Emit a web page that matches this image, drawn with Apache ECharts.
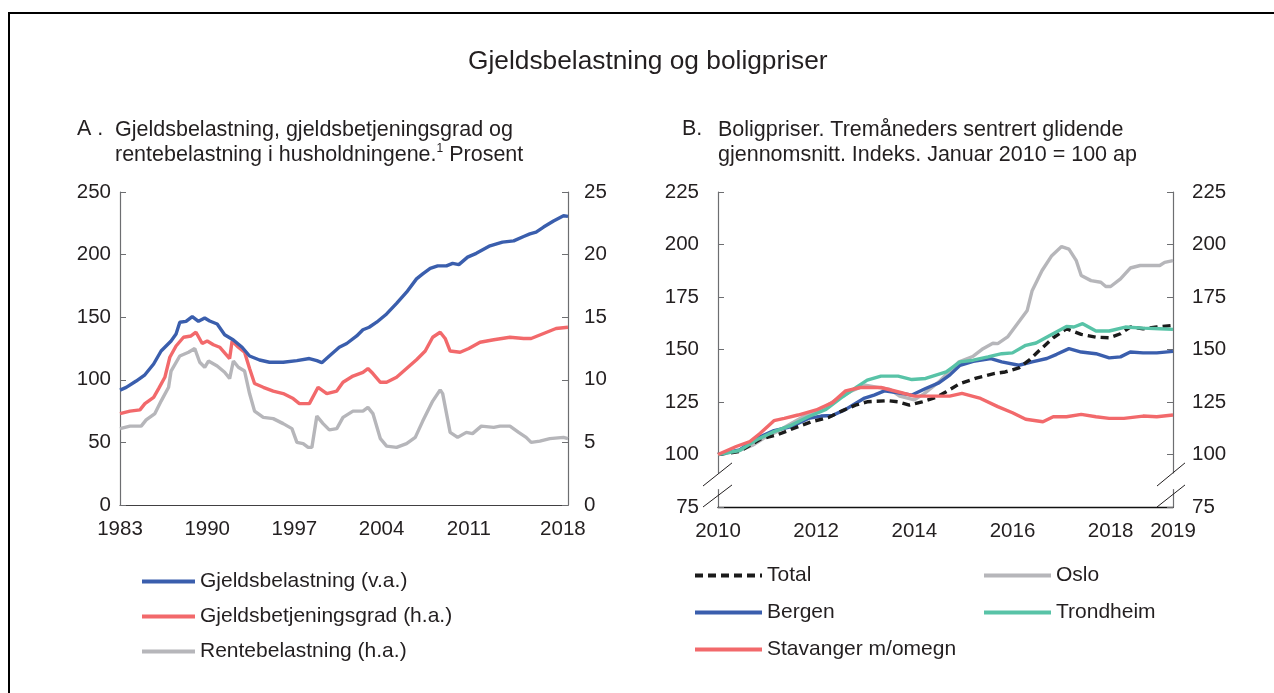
<!DOCTYPE html>
<html>
<head>
<meta charset="utf-8">
<script src="https://cdn.jsdelivr.net/npm/echarts@6/dist/echarts.min.js"></script>
<style>
  html, body { margin: 0; padding: 0; background: #fff; }
  #chart { width: 1274px; height: 693px; }
</style>
</head>
<body>
<div id="chart"></div>
<script>
// Panel A: Gjeldsbelastning (v.a.), Gjeldsbetjeningsgrad (h.a.), Rentebelastning (h.a.)
var gjeldYears = [1983.0, 1983.5, 1984.3, 1985.0, 1985.7, 1986.3, 1987.1, 1987.5, 1987.8, 1988.3, 1988.8, 1989.3, 1989.8, 1990.2, 1990.8, 1991.4, 1992.1, 1992.8, 1993.4, 1994.2, 1995.0, 1996.1, 1997.2, 1998.2, 1998.8, 1999.2, 1999.8, 2000.6, 2001.2, 2002.0, 2002.5, 2003.0, 2003.6, 2004.4, 2005.2, 2006.0, 2006.8, 2007.3, 2007.9, 2008.5, 2009.2, 2009.7, 2010.2, 2010.9, 2011.6, 2012.7, 2013.7, 2014.6, 2015.4, 2015.9, 2016.4, 2017.0, 2017.8, 2018.6, 2018.96];
var gjeldVals = [91.8, 93.9, 99, 104, 112.6, 123, 131, 136.6, 146, 146.7, 150.5, 146.7, 149.4, 147, 144.6, 136, 131.8, 126, 119, 115.8, 114, 114, 115.3, 117, 115.3, 113.7, 119, 126, 129, 135, 140, 142, 146, 152.6, 161, 170, 180.6, 184.6, 189, 191, 191, 193, 192, 198, 201, 207, 210, 211, 214.5, 216.6, 218, 222, 226.8, 231, 230.5];

var betjYears = [1983.0, 1983.8, 1984.6, 1985.0, 1985.7, 1986.1, 1986.6, 1987.0, 1987.5, 1988.1, 1988.7, 1989.1, 1989.6, 1990.0, 1990.5, 1991.0, 1991.8, 1992.0, 1992.5, 1993.0, 1993.4, 1993.8, 1994.5, 1995.3, 1996.1, 1996.9, 1997.4, 1998.2, 1998.9, 1999.6, 2000.4, 2000.9, 2001.7, 2002.5, 2002.9, 2003.3, 2003.9, 2004.4, 2005.2, 2006.0, 2006.8, 2007.5, 2008.1, 2008.7, 2009.1, 2009.5, 2010.3, 2011.0, 2011.9, 2013.0, 2014.3, 2015.4, 2016.0, 2017.0, 2018.0, 2018.96];
var betjVals = [7.3, 7.5, 7.6, 8.1, 8.6, 9.3, 10.2, 11.8, 12.7, 13.4, 13.5, 13.8, 12.9, 13.1, 12.8, 12.6, 11.7, 13.1, 12.6, 12.2, 10.9, 9.7, 9.4, 9.1, 8.9, 8.5, 8.1, 8.1, 9.4, 8.9, 9.1, 9.8, 10.3, 10.6, 10.9, 10.5, 9.8, 9.8, 10.2, 10.9, 11.6, 12.3, 13.4, 13.8, 13.3, 12.3, 12.2, 12.5, 13.0, 13.2, 13.4, 13.3, 13.3, 13.7, 14.1, 14.2];

var renteYears = [1983.0, 1983.8, 1984.7, 1985.1, 1985.8, 1986.3, 1986.9, 1987.1, 1987.8, 1988.5, 1989.0, 1989.4, 1989.8, 1990.1, 1990.8, 1991.4, 1991.8, 1992.1, 1992.5, 1993.0, 1993.4, 1993.8, 1994.5, 1995.3, 1996.1, 1996.8, 1997.2, 1997.7, 1998.1, 1998.4, 1998.8, 1999.3, 1999.8, 2000.4, 2000.9, 2001.7, 2002.5, 2002.9, 2003.3, 2003.9, 2004.4, 2005.2, 2006.0, 2006.7, 2007.3, 2008.1, 2008.7, 2008.9, 2009.5, 2010.1, 2010.8, 2011.3, 2012.0, 2013.0, 2013.5, 2014.3, 2015.0, 2015.6, 2016.0, 2016.7, 2017.5, 2018.6, 2018.96];
var renteVals = [6.1, 6.3, 6.3, 6.8, 7.3, 8.3, 9.4, 10.7, 11.9, 12.2, 12.5, 11.4, 11.0, 11.5, 11.1, 10.6, 10.1, 11.5, 11.0, 10.7, 8.9, 7.5, 7.0, 6.9, 6.5, 6.1, 5.0, 4.9, 4.6, 4.6, 7.1, 6.5, 6.0, 6.1, 7.0, 7.5, 7.5, 7.8, 7.3, 5.3, 4.7, 4.6, 4.9, 5.4, 6.7, 8.3, 9.2, 8.9, 5.8, 5.4, 5.8, 5.7, 6.3, 6.2, 6.3, 6.3, 5.8, 5.4, 5.0, 5.1, 5.3, 5.4, 5.3];

var aLeftTicks = { min: 0, max: 250, step: 50 };
var aRightTicks = { min: 0, max: 25, step: 5 };
var aYearLabels = [1983, 1990, 1997, 2004, 2011, 2018.55];

// Panel B: Boligpriser, indeks januar 2010 = 100
var totalYears = [2010.0, 2010.44, 2010.86, 2011.2, 2011.55, 2011.9, 2012.26, 2012.54, 2012.8, 2013.04, 2013.46, 2013.67, 2013.9, 2014.16, 2014.44, 2014.65, 2014.93, 2015.28, 2015.64, 2015.85, 2016.13, 2016.34, 2016.55, 2016.83, 2017.1, 2017.4, 2017.7, 2017.97, 2018.2, 2018.4, 2018.66, 2018.94, 2019.27];
var totalVals = [100, 101.4, 107.3, 109.3, 112.5, 115.6, 117.7, 120.9, 123.5, 125.1, 125.6, 125.1, 123.5, 125.1, 127.2, 129.9, 133.8, 136.5, 138.6, 139.3, 141.2, 144.9, 149.6, 155.6, 159.9, 157.2, 155.9, 155.6, 157.5, 160.7, 159.9, 160.7, 161.5];

var osloYears = [2010.0, 2010.44, 2010.72, 2010.93, 2011.2, 2011.5, 2011.8, 2012.1, 2012.4, 2012.7, 2013.0, 2013.2, 2013.5, 2013.7, 2014.0, 2014.2, 2014.5, 2014.7, 2014.9, 2015.2, 2015.4, 2015.6, 2015.7, 2015.9, 2016.1, 2016.3, 2016.4, 2016.6, 2016.8, 2017.0, 2017.15, 2017.3, 2017.4, 2017.6, 2017.8, 2017.9, 2018.0, 2018.2, 2018.4, 2018.6, 2019.0, 2019.1, 2019.27];
var osloVals = [100, 101.9, 104.6, 107.7, 110.9, 114.9, 118.8, 121.5, 126, 130, 133, 132.2, 131, 127.8, 126, 129, 134.6, 139.3, 144, 146.8, 150.4, 153, 152.8, 156, 162.3, 168.6, 178, 187.5, 194.7, 199, 197.8, 192.3, 185.2, 182.8, 182, 180, 180, 183.6, 188.8, 190, 190, 191.5, 192.3];

var bergenYears = [2010.0, 2010.44, 2010.79, 2011.14, 2011.5, 2011.84, 2012.1, 2012.33, 2012.6, 2012.97, 2013.18, 2013.39, 2013.67, 2013.95, 2014.23, 2014.5, 2014.72, 2014.93, 2015.2, 2015.56, 2015.78, 2016.13, 2016.4, 2016.7, 2016.9, 2017.15, 2017.4, 2017.7, 2017.97, 2018.2, 2018.4, 2018.66, 2018.94, 2019.27];
var bergenVals = [100, 102.2, 107.7, 111.4, 113.3, 117.2, 118.3, 118.6, 121.5, 126.7, 128.3, 130.3, 129.4, 128.3, 131.4, 134.1, 137.8, 142.5, 144.4, 145.7, 144.1, 142.5, 144.1, 145.7, 147.7, 150.4, 148.8, 148, 146, 146.5, 148.8, 148.4, 148.4, 149.1];

var trondYears = [2010.0, 2010.44, 2010.79, 2011.14, 2011.5, 2011.84, 2012.2, 2012.54, 2012.83, 2013.04, 2013.32, 2013.67, 2013.95, 2014.23, 2014.44, 2014.65, 2014.93, 2015.2, 2015.5, 2015.78, 2016.0, 2016.27, 2016.48, 2016.76, 2017.1, 2017.25, 2017.43, 2017.7, 2017.97, 2018.3, 2018.66, 2019.0, 2019.27];
var trondVals = [100, 101.9, 107, 110.9, 114, 118, 121.5, 127.5, 132.2, 135.4, 137.3, 137.3, 135.7, 136.2, 137.8, 139.3, 144.1, 144.9, 146.5, 148, 148.4, 152, 153.1, 156.7, 161, 160.7, 162.3, 158.8, 158.8, 160.7, 160.2, 159.9, 159.6];

var stavYears = [2010.0, 2010.37, 2010.65, 2010.86, 2011.14, 2011.35, 2011.63, 2012.0, 2012.33, 2012.6, 2012.9, 2013.32, 2013.74, 2014.0, 2014.44, 2014.72, 2014.97, 2015.35, 2015.7, 2016.0, 2016.27, 2016.62, 2016.83, 2017.1, 2017.4, 2017.7, 2017.97, 2018.27, 2018.66, 2018.94, 2019.27];
var stavVals = [100, 103.8, 106.2, 110.1, 116.1, 117.2, 118.8, 121.2, 124.7, 130.3, 131.9, 131.9, 129.4, 127.8, 127.8, 127.8, 129.1, 126.7, 122.8, 119.9, 116.8, 115.6, 118, 118, 119.1, 118, 117.2, 117.2, 118.3, 118, 118.8];

var bTicks = { min: 75, max: 225, step: 25 };
var bYearLabels = [2010, 2012, 2014, 2016, 2018, 2019.27];

var font = '"Liberation Sans", Arial, sans-serif';
var ink = '#231f20';
var cBlue = '#3a5ead';
var cRed = '#f2696b';
var cGray = '#b6b6ba';
var cTeal = '#58c3a7';
var cBlack = '#1b1b1b';

function zip(xs, ys) {
  return xs.map(function(x, i) { return [x, ys[i]]; });
}

function yAxis(grid, ticks, pos, margin) {
  return {
    type: 'value', gridIndex: grid, position: pos,
    min: ticks.min, max: ticks.max, interval: ticks.step,
    axisLine: { show: true, lineStyle: { color: '#6d6e71', width: 1.2 } },
    axisTick: { show: true, inside: true, length: 6, lineStyle: { color: '#6d6e71' } },
    axisLabel: { color: ink, fontSize: 20.5, fontFamily: font, margin: margin },
    splitLine: { show: false }
  };
}

function lineSeries(name, data, color, xi, yi, dashed) {
  return {
    name: name, type: 'line', xAxisIndex: xi, yAxisIndex: yi,
    data: data, symbol: 'none', showSymbol: false,
    lineStyle: { color: color, width: 3.4, type: dashed ? [8, 5] : 'solid' },
    itemStyle: { color: color },
    emphasis: { disabled: true }
  };
}

function legendBox(names, left, top, gap, w) {
  return {
    data: names, orient: 'vertical', left: left, top: top, itemGap: gap,
    itemWidth: w, itemHeight: 14, selectedMode: false,
    itemStyle: { opacity: 0 },
    lineStyle: { width: 4 },
    textStyle: { color: ink, fontSize: 21, fontFamily: font }
  };
}

var chart = echarts.init(document.getElementById('chart'), null, { renderer: 'canvas' });

chart.setOption({
  animation: false,
  backgroundColor: '#fff',
  grid: [
    { left: 120, top: 192, width: 448, height: 313 },
    { left: 718, top: 192, width: 455, height: 315 }
  ],
  xAxis: [
    {
      type: 'value', gridIndex: 0, min: 1983, max: 2018.96,
      axisLine: { show: true, lineStyle: { color: '#414042', width: 1.2 } },
      axisTick: { show: false },
      axisLabel: {
        color: ink, fontSize: 20.5, fontFamily: font, margin: 14,
        customValues: aYearLabels,
        formatter: function(v) { return String(Math.floor(v)); }
      },
      splitLine: { show: false }
    },
    {
      type: 'value', gridIndex: 1, min: 2010, max: 2019.27,
      axisLine: { show: true, lineStyle: { color: '#111', width: 1.4 } },
      axisTick: { show: false },
      axisLabel: {
        color: ink, fontSize: 20.5, fontFamily: font, margin: 14,
        customValues: bYearLabels,
        formatter: function(v) { return String(Math.floor(v)); }
      },
      splitLine: { show: false }
    }
  ],
  yAxis: [
    yAxis(0, aLeftTicks, 'left', 9),
    yAxis(0, aRightTicks, 'right', 16),
    yAxis(1, bTicks, 'left', 19),
    yAxis(1, bTicks, 'right', 19)
  ],
  legend: [
    legendBox(['Gjeldsbelastning (v.a.)', 'Gjeldsbetjeningsgrad (h.a.)', 'Rentebelastning (h.a.)'], 135, 566, 14, 53),
    legendBox(['Total', 'Bergen', 'Stavanger m/omegn'], 688, 560, 16, 67),
    legendBox(['Oslo', 'Trondheim'], 977, 560, 16, 67)
  ],
  series: [
    lineSeries('Rentebelastning (h.a.)', zip(renteYears, renteVals), cGray, 0, 1),
    lineSeries('Gjeldsbetjeningsgrad (h.a.)', zip(betjYears, betjVals), cRed, 0, 1),
    lineSeries('Gjeldsbelastning (v.a.)', zip(gjeldYears, gjeldVals), cBlue, 0, 0),
    lineSeries('Oslo', zip(osloYears, osloVals), cGray, 1, 2),
    lineSeries('Bergen', zip(bergenYears, bergenVals), cBlue, 1, 2),
    lineSeries('Total', zip(totalYears, totalVals), cBlack, 1, 2, true),
    lineSeries('Trondheim', zip(trondYears, trondVals), cTeal, 1, 2),
    lineSeries('Stavanger m/omegn', zip(stavYears, stavVals), cRed, 1, 2)
  ]
});

// axis break marks on panel B, placed through the axis scales
function px(year, val) {
  return chart.convertToPixel({ xAxisIndex: 1, yAxisIndex: 2 }, [year, val]);
}
var leftX = px(2010, 100)[0];
var rightX = px(2019.27, 100)[0];
var gapTop = px(2010, 91)[1];
var gapBot = px(2010, 83.5)[1];
var breakEls = [];
[leftX, rightX].forEach(function(ax, i) {
  var dx0 = i === 0 ? -15 : -16;
  var dx1 = i === 0 ? 14 : 12;
  breakEls.push({
    type: 'rect', z: 100, silent: true,
    shape: { x: ax - 3, y: gapTop, width: 6, height: gapBot - gapTop },
    style: { fill: '#fff' }
  });
  [[85, 96], [75, 85.5]].forEach(function(v) {
    breakEls.push({
      type: 'line', z: 101, silent: true,
      shape: { x1: ax + dx0, y1: px(2010, v[0])[1], x2: ax + dx1, y2: px(2010, v[1])[1] },
      style: { stroke: '#231f20', lineWidth: 1 }
    });
  });
});

chart.setOption({
  graphic: [
    {
      type: 'rect', z: 0, silent: true,
      shape: { x: 9, y: 13, width: 1300, height: 720 },
      style: { fill: 'none', stroke: '#000', lineWidth: 2 }
    },
    {
      type: 'text', left: 468, top: 49, silent: true,
      style: { text: 'Gjeldsbelastning og boligpriser', fill: ink, font: '26.3px ' + font }
    },
    {
      type: 'text', left: 77, top: 118, silent: true,
      style: { text: 'A .', fill: ink, font: '21.5px ' + font }
    },
    {
      type: 'text', left: 115, top: 118, silent: true,
      style: {
        text: 'Gjeldsbelastning, gjeldsbetjeningsgrad og\nrentebelastning i husholdningene.{sup|1} Prosent',
        fill: ink, font: '21.5px ' + font, lineHeight: 25,
        rich: { sup: { fontSize: 12, fontFamily: font, fill: ink, verticalAlign: 'top', padding: [0, 0, 9, 0] } }
      }
    },
    {
      type: 'text', left: 682, top: 118, silent: true,
      style: { text: 'B.', fill: ink, font: '21.5px ' + font }
    },
    {
      type: 'text', left: 718, top: 118, silent: true,
      style: {
        text: 'Boligpriser. Tremåneders sentrert glidende\ngjennomsnitt. Indeks. Januar 2010 = 100 ap',
        fill: ink, font: '21.5px ' + font, lineHeight: 25
      }
    }
  ].concat(breakEls)
});

window.addEventListener('resize', function() { chart.resize(); });
</script>
</body>
</html>
